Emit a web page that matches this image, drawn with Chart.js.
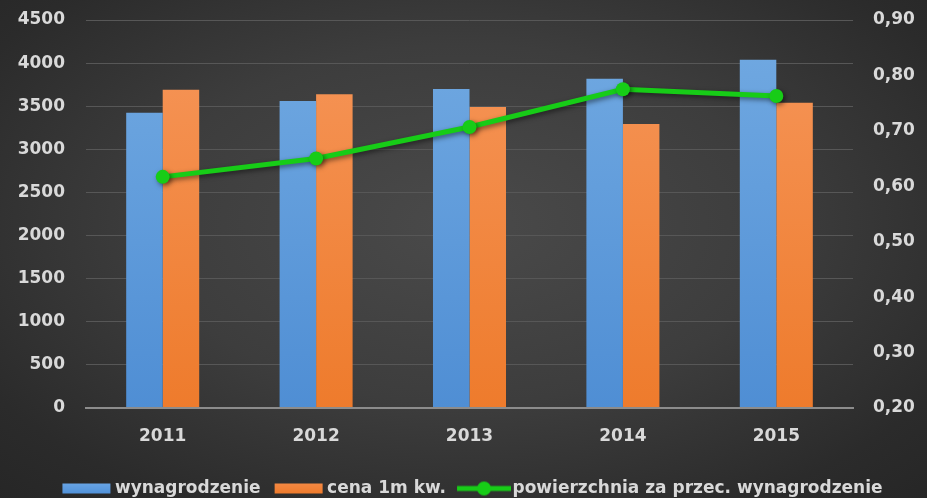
<!DOCTYPE html>
<html>
<head>
<meta charset="utf-8">
<script src="https://cdn.jsdelivr.net/npm/chart.js@4.4.0/dist/chart.umd.min.js"></script>
<style>
  html, body { margin: 0; padding: 0; }
  body {
    width: 927px; height: 498px; overflow: hidden;
    background: radial-gradient(ellipse 75% 80% at 50% 45%, #4a4a4a 0%, #3d3d3d 45%, #2b2b2b 80%, #252525 100%);
  }
  #wrap { position: relative; width: 927px; height: 498px; }
</style>
</head>
<body>
<div id="wrap"><canvas id="c" width="927" height="498"></canvas></div>
<script>
const categories = ['2011', '2012', '2013', '2014', '2015'];
const wynagrodzenie = [3425, 3560, 3700, 3820, 4040];
const cena = [3690, 3640, 3490, 3295, 3540];
const powierzchnia = [0.617, 0.650, 0.707, 0.775, 0.763];
const leftTicks = [0, 500, 1000, 1500, 2000, 2500, 3000, 3500, 4000, 4500];
const rightTicks = [0.2, 0.3, 0.4, 0.5, 0.6, 0.7, 0.8, 0.9];
const seriesNames = ['wynagrodzenie', 'cena 1m kw.', 'powierzchnia za przec. wynagrodzenie'];

const FONT = { family: 'DejaVu Sans', weight: 'bold', size: 17 };
const TXT = '#d9d9d9';
const GREEN = '#17cc17';

function vGrad(chart, top, bottom) {
  const a = chart.chartArea;
  if (!a) return bottom;
  const g = chart.ctx.createLinearGradient(0, a.top, 0, a.bottom);
  g.addColorStop(0, top);
  g.addColorStop(1, bottom);
  return g;
}

// legend marker images
function makeBox(c1, c2) {
  const cv = document.createElement('canvas');
  cv.width = 64; cv.height = 12;
  const x = cv.getContext('2d');
  const g = x.createLinearGradient(0, 0, 0, 12);
  g.addColorStop(0, c1); g.addColorStop(1, c2);
  x.fillStyle = g;
  x.fillRect(13, 1, 48, 10);
  return cv;
}
function makeLine() {
  const cv = document.createElement('canvas');
  cv.width = 64; cv.height = 16;
  const x = cv.getContext('2d');
  x.strokeStyle = GREEN; x.lineWidth = 5;
  x.beginPath(); x.moveTo(10, 8); x.lineTo(64, 8); x.stroke();
  x.fillStyle = GREEN;
  x.beginPath(); x.arc(37, 8, 7, 0, Math.PI * 2); x.fill();
  return cv;
}
const legendImgs = [makeBox('#6aa6e6', '#4f90d8'), makeBox('#f58a45', '#ee7a2a'), makeLine()];

const shadowPlugin = {
  id: 'lineShadow',
  afterLayout(chart) {
    const lg = chart.legend;
    if (lg) { lg.top += 9; lg.bottom += 9; }
  },
  beforeDatasetDraw(chart, args) {
    if (args.index === 2) {
      const ctx = chart.ctx;
      ctx.save();
      ctx.shadowColor = 'rgba(0,0,0,0.5)';
      ctx.shadowBlur = 5;
      ctx.shadowOffsetX = 2;
      ctx.shadowOffsetY = 2;
    }
  },
  afterDatasetDraw(chart, args) {
    if (args.index === 2) chart.ctx.restore();
  }
};

function noVPad(s, w) { s.width = w; s.paddingTop = 0; s.paddingBottom = 0; }

new Chart(document.getElementById('c'), {
  data: {
    labels: categories,
    datasets: [
      {
        type: 'bar', label: seriesNames[0], data: wynagrodzenie, yAxisID: 'y', order: 2,
        backgroundColor: (c) => vGrad(c.chart, '#72aae2', '#4f8ed4'),
        categoryPercentage: 0.476, barPercentage: 1.0
      },
      {
        type: 'bar', label: seriesNames[1], data: cena, yAxisID: 'y', order: 2,
        backgroundColor: (c) => vGrad(c.chart, '#f6965a', '#ee7b2c'),
        categoryPercentage: 0.476, barPercentage: 1.0
      },
      {
        type: 'line', label: seriesNames[2], data: powierzchnia, yAxisID: 'y1', order: 0,
        borderColor: GREEN, backgroundColor: GREEN, borderWidth: 5,
        pointRadius: 7, pointBackgroundColor: GREEN, pointBorderWidth: 0,
        tension: 0, fill: false
      }
    ]
  },
  options: {
    responsive: false,
    animation: false,
    events: [],
    layout: { padding: { top: 20, left: 12, right: 0, bottom: 0 } },
    scales: {
      x: {
        grid: { display: false, drawTicks: false },
        border: { display: true, color: '#8c8c8c', width: 2 },
        ticks: { color: TXT, font: FONT, padding: 18 },
        afterFit: (s) => { s.height = 55; s.paddingLeft = 0; s.paddingRight = 0; }
      },
      y: {
        position: 'left', min: 0, max: 4500,
        afterBuildTicks: (s) => { s.ticks = leftTicks.map(v => ({ value: v })); },
        grid: { color: (c) => c.tick && c.tick.value === 0 ? '#8c8c8c' : '#575757', lineWidth: (c) => c.tick && c.tick.value === 0 ? 2 : 1, drawTicks: false },
        border: { display: false },
        ticks: { color: TXT, font: FONT, padding: 21, callback: (v) => String(v) },
        afterFit: (s) => noVPad(s, 74)
      },
      y1: {
        position: 'right', min: 0.2, max: 0.9,
        afterBuildTicks: (s) => { s.ticks = rightTicks.map(v => ({ value: v })); },
        grid: { display: false, drawTicks: false },
        border: { display: false },
        ticks: { color: TXT, font: FONT, padding: 20, callback: (v) => Number(v).toFixed(2).replace('.', ',') },
        afterFit: (s) => noVPad(s, 74)
      }
    },
    plugins: {
      tooltip: { enabled: false },
      legend: {
        position: 'bottom',
        labels: {
          color: TXT, font: FONT, usePointStyle: true, pointStyleWidth: 50, boxHeight: 12, padding: 8,
          generateLabels: (chart) => {
            const items = Chart.defaults.plugins.legend.labels.generateLabels(chart);
            items.sort((a, b) => a.datasetIndex - b.datasetIndex);
            items.forEach(it => { it.pointStyle = legendImgs[it.datasetIndex]; it.lineWidth = 0; });
            return items;
          }
        }
      }
    }
  },
  plugins: [shadowPlugin]
});
</script>
</body>
</html>
